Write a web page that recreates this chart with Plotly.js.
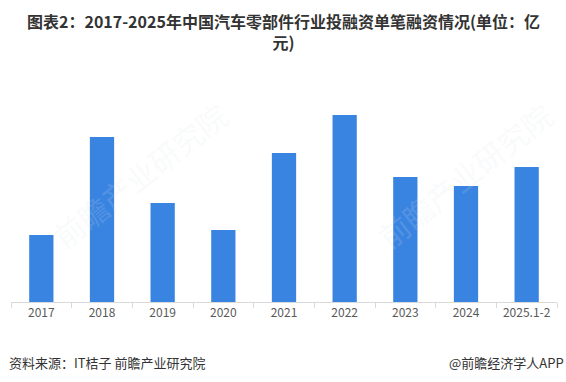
<!DOCTYPE html>
<html>
<head>
<meta charset="utf-8">
<script src="https://cdn.plot.ly/plotly-3.0.1.min.js"></script>
<style>html,body{margin:0;padding:0;background:#fff;}#chart{width:566px;height:382px;}</style>
</head>
<body>
<div id="chart"></div>
<script>
var categories = ["2017", "2018", "2019", "2020", "2021", "2022", "2023", "2024", "2025.1-2"];
var values = [0.67, 1.65, 0.99, 0.72, 1.49, 1.87, 1.25, 1.16, 1.35];
var titleText = "图表2：2017-2025年中国汽车零部件行业投融资单笔融资情况(单位：亿<br>元)";
var sourceText = "资料来源：IT桔子 前瞻产业研究院";
var brandText = "@前瞻经济学人APP";
var watermarkText = "前瞻产业研究院";

var font = '"Noto Sans CJK SC", "Noto Sans", sans-serif';

var trace = {
  type: "bar",
  x: categories,
  y: values,
  marker: {color: "#3A84E1"},
  hoverinfo: "x+y"
};

function py(p) { return (302 - p) / 200; }
function px(p) { return (p - 11) / 546; }

var titleFont = {family: font, size: 16, color: "#333333", weight: "bold"};
var footFont = {family: font, size: 13, color: "#333333"};
var wmFont = {family: font, size: 30, color: "rgba(220,226,235,0.18)"};

var layout = {
  width: 566,
  height: 382,
  margin: {l: 11, r: 9, t: 102, b: 80},
  paper_bgcolor: "#ffffff",
  plot_bgcolor: "#ffffff",
  bargap: 0.6,
  showlegend: false,
  font: {family: font, color: "#404040"},
  xaxis: {
    type: "category",
    showline: true,
    linecolor: "#d9d9d9",
    linewidth: 1,
    ticks: "outside",
    tickson: "boundaries",
    ticklen: 5,
    tickcolor: "#d9d9d9",
    tickfont: {family: font, size: 12, color: "#595959"},
    showgrid: false,
    zeroline: false,
    fixedrange: true
  },
  yaxis: {
    range: [0, 2.0],
    visible: false,
    showgrid: false,
    zeroline: false,
    fixedrange: true
  },
  annotations: [
    {
      text: titleText, xref: "paper", yref: "paper",
      x: px(283), y: py(31.5), xanchor: "center", yanchor: "middle",
      align: "center", showarrow: false, font: titleFont
    },
    {
      text: sourceText, xref: "paper", yref: "paper",
      x: px(7), y: py(362), xanchor: "left", yanchor: "middle",
      showarrow: false, font: footFont
    },
    {
      text: brandText, xref: "paper", yref: "paper",
      x: px(566), y: py(362), xanchor: "right", yanchor: "middle",
      showarrow: false, font: footFont
    },
    {
      text: watermarkText, xref: "paper", yref: "paper",
      x: px(140), y: py(175), xanchor: "center", yanchor: "middle", textangle: -38,
      showarrow: false, font: wmFont
    },
    {
      text: watermarkText, xref: "paper", yref: "paper",
      x: px(465), y: py(175), xanchor: "center", yanchor: "middle", textangle: -38,
      showarrow: false, font: wmFont
    }
  ]
};

Plotly.newPlot("chart", [trace], layout, {displayModeBar: false, staticPlot: true});
</script>
</body>
</html>
